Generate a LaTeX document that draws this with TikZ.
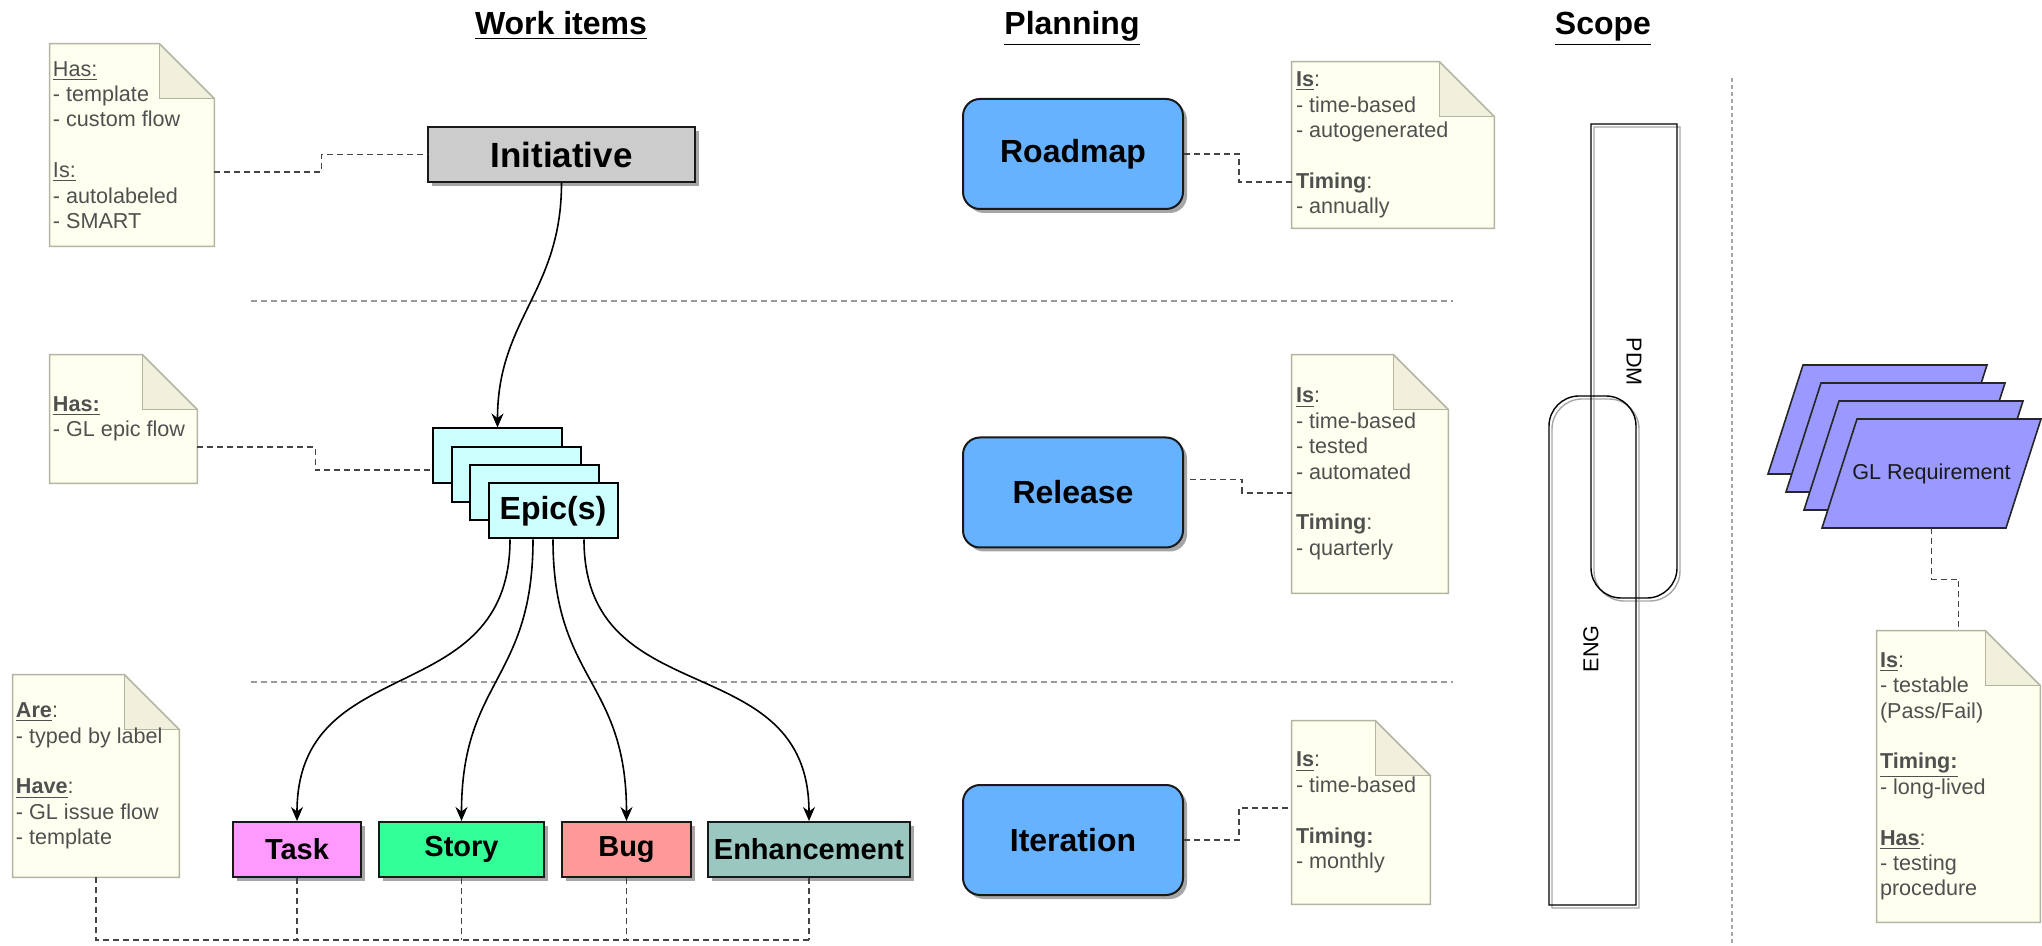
\documentclass[tikz,border=0pt]{standalone}
\usepackage{fontspec}
\setmainfont{Liberation Sans}
\usetikzlibrary{arrows.meta,shadows,calc}
\definecolor{notefill}{HTML}{FFFFF0}
\definecolor{notedraw}{HTML}{B4B4A0}
\definecolor{foldfill}{HTML}{F0F0DC}
\definecolor{notetxt}{HTML}{505050}
\definecolor{initfill}{HTML}{CCCCCC}
\definecolor{epicfill}{HTML}{CCFFFF}
\definecolor{taskfill}{HTML}{FF99FF}
\definecolor{storyfill}{HTML}{33FF99}
\definecolor{bugfill}{HTML}{FF9999}
\definecolor{enhfill}{HTML}{9AC7BF}
\definecolor{planfill}{HTML}{66B2FF}
\definecolor{reqfill}{HTML}{9999FF}
\definecolor{sepgray}{HTML}{999999}
\definecolor{conngray}{HTML}{444444}
\newcommand\notepaper[1]{%
  \fill[notefill] (#1.north west) -- ([xshift=-27.5pt]#1.north east) -- ([yshift=-27.5pt]#1.north east) -- (#1.south east) -- (#1.south west) -- cycle;
  \fill[foldfill] ([xshift=-27.5pt]#1.north east) -- ([yshift=-27.5pt]#1.north east) -- ([xshift=-27.5pt,yshift=-27.5pt]#1.north east) -- cycle;
  \draw[notedraw,line width=0.8pt,line join=miter] (#1.north west) -- ([xshift=-27.5pt]#1.north east) -- ([yshift=-27.5pt]#1.north east) -- (#1.south east) -- (#1.south west) -- cycle;
  \draw[notedraw,line width=0.8pt] ([xshift=-27.5pt]#1.north east) -- ([xshift=-27.5pt,yshift=-27.5pt]#1.north east) -- ([yshift=-27.5pt]#1.north east);
}
\begin{document}
\begin{tikzpicture}[x=0.5pt,y=-0.5pt,
  every node/.style={font=\fontsize{10.8}{12.7}\selectfont},
  shad/.style={drop shadow={shadow xshift=2pt,shadow yshift=-2pt,opacity=0.35,fill=black}},
  title/.style={font=\fontsize{16}{19}\selectfont\bfseries, anchor=base, inner sep=0pt},
  wbox/.style={draw=black!90, line width=1pt, font=\fontsize{14.5}{17}\selectfont\bfseries, inner sep=0pt, minimum height=27.5pt, shad},
  epicbox/.style={draw=black, line width=1pt, fill=epicfill, minimum width=64.5pt, minimum height=27.5pt, inner sep=0pt, font=\fontsize{16}{19}\selectfont\bfseries},
  planbox/.style={draw=black!90, line width=1pt, fill=planfill, rounded corners=8.5pt, minimum width=110pt, minimum height=55pt, inner sep=0pt, font=\fontsize{16}{19}\selectfont\bfseries, shad},
  noteframe/.style={inner sep=0pt},
  notetext/.style={anchor=west, align=left, inner sep=0pt, text=notetxt, font=\fontsize{10.8}{12.7}\selectfont},
  conn/.style={draw=conngray, line width=0.6pt, dash pattern=on 3pt off 2pt},
  sepline/.style={draw=sepgray, line width=0.7pt, dash pattern=on 3pt off 2pt},
  arr/.style={draw=black, line width=0.8pt, -{Stealth[length=7pt,width=6pt]}},
  scopeline/.style={draw=black, line width=0.7pt},
  scopeshadow/.style={draw=black!35, line width=0.7pt},
  reqsheet/.style={draw=black!85, line width=0.8pt, fill=reqfill, line join=miter}
]
\useasboundingbox (0,0) rectangle (2042,946);
\fill[white] (0,0) rectangle (2042,946);

% titles
\node[title] (twork) at (561,35) {\underline{Work items}};
\node[title] (tplan) at (1072,35) {\underline{Planning}};
\node[title] (tscope) at (1603,35) {\underline{Scope}};

% separators
\coordinate (s1a) at (251,301); \coordinate (s1b) at (1453,301);
\coordinate (s2a) at (251,682); \coordinate (s2b) at (1453,682);
\draw[sepline] (s1a) -- (s1b);
\draw[sepline] (s2a) -- (s2b);
\coordinate (vtop) at (1732,78); \coordinate (vbot) at (1732,946);
\draw[draw=black!35, line width=1pt, dash pattern=on 2pt off 1.5pt] (vtop) -- (vbot);

% work items
\node[wbox, fill=initfill, minimum width=133.5pt, font=\fontsize{17.5}{20}\selectfont\bfseries] (init) at (561.5,154.5) {Initiative};

\node[epicbox] (r1) at (497.5,456) {};
\node[epicbox] (r2) at (516,474.3) {};
\node[epicbox] (r3) at (534.5,492.6) {};
\node[epicbox] (r4) at (553,511) {Epic(s)};

\node[wbox, fill=taskfill, minimum width=64pt] (task) at (297,849.5) {Task};
\node[wbox, fill=storyfill, minimum width=82.5pt] (story) at (461.5,849.5) {Story};
\node[wbox, fill=bugfill, minimum width=64.5pt] (bug) at (626.5,849.5) {Bug};
\node[wbox, fill=enhfill, minimum width=101pt] (enh) at (809,849.5) {Enhancement};

\draw[arr] (init.south) to[out=-90,in=90,looseness=1.1] (r1.north);
\draw[arr] ([xshift=-21.5pt]r4.south) to[out=-90,in=90,looseness=1.25] (task.north);
\draw[arr] ([xshift=-10pt]r4.south) to[out=-90,in=90,looseness=1.25] (story.north);
\draw[arr] (r4.south) to[out=-90,in=90,looseness=1.25] (bug.north);
\draw[arr] ([xshift=15.5pt]r4.south) to[out=-90,in=90,looseness=1.25] (enh.north);

% notes - work items
\node[noteframe, minimum width=82pt, minimum height=101pt] (n1) at (132,145) {};
\notepaper{n1}
\node[notetext] (n1t) at ([xshift=1.5pt]n1.west) {\underline{Has:}\\- template\\- custom flow\\[12.7pt]\underline{Is:}\\- autolabeled\\- SMART};

\node[noteframe, minimum width=73.5pt, minimum height=64pt] (n2) at (123.5,419) {};
\notepaper{n2}
\node[notetext] (n2t) at ([xshift=1.5pt]n2.west) {\underline{\textbf{Has:}}\\- GL epic flow};

\node[noteframe, minimum width=83pt, minimum height=101pt] (n3) at (96,776) {};
\notepaper{n3}
\node[notetext] (n3t) at ([xshift=1.5pt]n3.west) {\underline{\textbf{Are}}:\\- typed by label\\[12.7pt]\underline{\textbf{Have}}:\\- GL issue flow\\- template};

\draw[conn] ([yshift=-13.5pt]n1.east) -- ++(107,0) |- (init.west);
\draw[conn] ([yshift=-14pt]n2.east) -- ++(118,0) |- ([yshift=-7pt]r1.west);

\coordinate (busend) at (809,940);
\draw[conn] (n3.south) |- (busend);
\draw[conn] (task.south) -- (task.south |- busend);
\draw[conn] (story.south) -- (story.south |- busend);
\draw[conn] (bug.south) -- (bug.south |- busend);
\draw[conn] (enh.south) -- (busend);

% planning
\node[planbox] (road) at (1073,154) {Roadmap};
\node[planbox] (rel) at (1073,492.5) {Release};
\node[planbox] (iter) at (1073,840) {Iteration};

\node[noteframe, minimum width=101pt, minimum height=83pt] (n4) at (1393,145) {};
\notepaper{n4}
\node[notetext] (n4t) at ([xshift=2pt]n4.west) {\underline{\textbf{Is}}:\\- time-based\\- autogenerated\\[12.7pt]\textbf{Timing}:\\- annually};

\node[noteframe, minimum width=78pt, minimum height=119pt] (n5) at (1370,474) {};
\notepaper{n5}
\node[notetext] (n5t) at ([xshift=2pt]n5.west) {\underline{\textbf{Is}}:\\- time-based\\- tested\\- automated\\[12.7pt]\textbf{Timing}:\\- quarterly};

\node[noteframe, minimum width=69pt, minimum height=91.5pt] (n6) at (1361,812.5) {};
\notepaper{n6}
\node[notetext] (n6t) at ([xshift=2pt]n6.west) {\underline{\textbf{Is}}:\\- time-based\\[12.7pt]\textbf{Timing:}\\- monthly};

\draw[conn] (road.east) -- ++(55,0) |- ([yshift=-18.5pt]n4.west);
\draw[conn] ([yshift=6.5pt,xshift=3pt]rel.east) -- ++(52,0) |- ([yshift=-9.5pt]n5.west);
\draw[conn] (iter.east) -- ++(55,0) |- ([yshift=2.25pt]n6.west);

% scope
\draw[scopeshadow, shift={(3,3)}] (1591,124) -- (1677,124) -- (1677,568) .. controls (1677,584.5) and (1663.5,598) .. (1647,598) -- (1621,598) .. controls (1604.5,598) and (1591,584.5) .. (1591,568) -- cycle;
\draw[scopeshadow, shift={(3,3)}] (1549,905) -- (1549,426) .. controls (1549,409.5) and (1562.5,396) .. (1579,396) -- (1606,396) .. controls (1622.5,396) and (1636,409.5) .. (1636,426) -- (1636,905) -- cycle;
\draw[scopeline] (1591,124) -- (1677,124) -- (1677,568) .. controls (1677,584.5) and (1663.5,598) .. (1647,598) -- (1621,598) .. controls (1604.5,598) and (1591,584.5) .. (1591,568) -- cycle;
\draw[scopeline] (1549,905) -- (1549,426) .. controls (1549,409.5) and (1562.5,396) .. (1579,396) -- (1606,396) .. controls (1622.5,396) and (1636,409.5) .. (1636,426) -- (1636,905) -- cycle;
\node[rotate=-90, inner sep=0pt] (pdm) at (1634,362) {PDM};
\node[rotate=90, inner sep=0pt] (eng) at (1591,649) {ENG};

% GL requirement
\foreach \k in {3,2,1,0}
  \draw[reqsheet, shift={(-18*\k,-18*\k)}] (1857,419) -- (2041,419) -- (2006,528) -- (1822,528) -- cycle;
\node[inner sep=0pt, minimum width=92pt, minimum height=54.5pt, text=black!90] (glr) at (1931.5,473.5) {GL Requirement};

\node[noteframe, minimum width=81.5pt, minimum height=145.5pt] (n7) at (1958.5,776.5) {};
\notepaper{n7}
\node[notetext] (n7t) at ([xshift=1.5pt]n7.west) {\underline{\textbf{Is}}:\\- testable\\(Pass/Fail)\\[12.7pt]\underline{\textbf{Timing:}}\\- long-lived\\[12.7pt]\underline{\textbf{Has}}:\\- testing\\procedure};

\draw[conn] (glr.south) -- ++(0,51) -| (n7.north);
\end{tikzpicture}
\end{document}
